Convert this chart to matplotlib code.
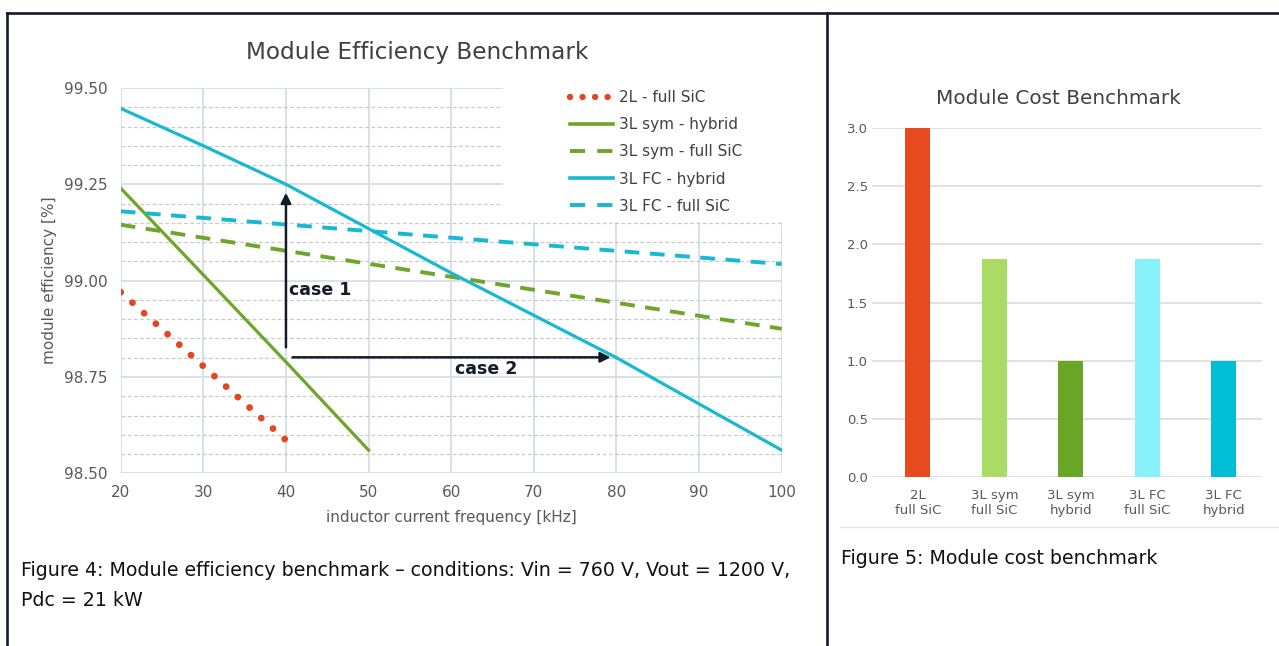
import matplotlib
matplotlib.use('Agg')
import matplotlib.pyplot as plt
from matplotlib.ticker import MultipleLocator, FormatStrFormatter
from matplotlib.lines import Line2D
from matplotlib.patches import Rectangle

# ---------------- data ----------------
freq_2l = [20, 30, 40]
eff_2l = [98.970, 98.778, 98.586]

freq_sym_hybrid = [20, 30, 40, 50]
eff_sym_hybrid = [99.240, 99.015, 98.789, 98.560]

freq_sym_sic = [20, 60, 100]
eff_sym_sic = [99.145, 99.010, 98.875]

freq_fc_hybrid = [20, 30, 40, 50, 60, 70, 80, 90, 100]
eff_fc_hybrid = [99.447, 99.350, 99.250, 99.135, 99.020, 98.910, 98.800, 98.680, 98.560]

freq_fc_sic = [20, 100]
eff_fc_sic = [99.180, 99.043]

series_labels = ["2L - full SiC", "3L sym - hybrid", "3L sym - full SiC",
                 "3L FC - hybrid", "3L FC - full SiC"]

cost_labels = ["2L\nfull SiC", "3L sym\nfull SiC", "3L sym\nhybrid",
               "3L FC\nfull SiC", "3L FC\nhybrid"]
cost_values = [3.0, 1.87, 1.0, 1.87, 1.0]

eff_ticks = [98.50, 98.75, 99.00, 99.25, 99.50]
freq_ticks = [20, 30, 40, 50, 60, 70, 80, 90, 100]

# ---------------- styling ----------------
plt.rcParams['font.family'] = ['DejaVu Sans']
W, H = 1279, 646
fig = plt.figure(figsize=(W / 100, H / 100), dpi=100)
fig.patch.set_facecolor('white')


def fx(px):
    return px / W


def fy(py):
    return 1 - py / H


RED = '#e4461f'
GREEN = '#6fa52a'
CYAN = '#17b8d1'
TICK = '#595959'
TITLE = '#404040'
MAJOR = '#d5dde6'
MINOR = '#cacaca'
DARK = '#141c28'

# ---------------- efficiency chart ----------------
L, R, T, B = 120.7, 781.7, 88.0, 473.3
ax = fig.add_axes([fx(L), fy(B), (R - L) / W, (B - T) / H])
ax.set_xlim(20, 100)
ax.set_ylim(98.5, 99.5)
ax.set_xticks(freq_ticks)
ax.set_yticks(eff_ticks)
ax.yaxis.set_major_formatter(FormatStrFormatter('%.2f'))
ax.yaxis.set_minor_locator(MultipleLocator(0.05))
ax.set_axisbelow(True)
ax.grid(which='major', color=MAJOR, lw=1.3, ls='-')
ax.grid(which='minor', axis='y', color=MINOR, lw=0.9, ls=(0, (3, 2)))
for s in ax.spines.values():
    s.set_visible(False)
ax.tick_params(which='both', length=0)
ax.tick_params(axis='y', pad=9.5, labelsize=11, labelcolor=TICK)
ax.tick_params(axis='x', pad=8.5, labelsize=11, labelcolor=TICK)
ax.set_xlabel('inductor current frequency [kHz]', fontsize=11, color=TICK, labelpad=7)
ax.set_ylabel('module efficiency [%]', fontsize=11, color=TICK, labelpad=5)

# white box behind the legend
ax.add_patch(Rectangle((fx(503), fy(222)), fx(790) - fx(503), fy(74) - fy(222),
                       transform=fig.transFigure, facecolor='white',
                       edgecolor='none', zorder=1, clip_on=False))

dot_ls = (0, (0.01, 2.3))
dash_ls = (0, (3.8, 2.7))
ax.plot(freq_2l, eff_2l, color=RED, lw=4.9, ls=dot_ls, dash_capstyle='round', zorder=3)
ax.plot(freq_sym_hybrid, eff_sym_hybrid, color=GREEN, lw=2.3, zorder=3)
ax.plot(freq_sym_sic, eff_sym_sic, color=GREEN, lw=2.8, ls=dash_ls, zorder=3)
ax.plot(freq_fc_hybrid, eff_fc_hybrid, color=CYAN, lw=2.3, zorder=3)
ax.plot(freq_fc_sic, eff_fc_sic, color=CYAN, lw=2.8, ls=dash_ls, zorder=3)

handles = [
    Line2D([], [], color=RED, lw=4.6, ls=(0, (0.01, 1.95)), dash_capstyle='round'),
    Line2D([], [], color=GREEN, lw=2.6),
    Line2D([], [], color=GREEN, lw=2.8, ls=(0, (3.9, 3.1))),
    Line2D([], [], color=CYAN, lw=2.6),
    Line2D([], [], color=CYAN, lw=2.8, ls=(0, (3.9, 3.1))),
]
leg = ax.legend(handles, series_labels, loc='upper left',
                bbox_to_anchor=((570 - L) / (R - L), 0.995),
                frameon=False, fontsize=11, handlelength=2.8,
                handletextpad=0.4, labelspacing=0.8, borderpad=0,
                borderaxespad=0)
for t in leg.get_texts():
    t.set_color(TITLE)

# arrows and annotations
ax.annotate('', xy=(40, 99.228), xytext=(40, 98.827),
            arrowprops=dict(arrowstyle='-|>', color=DARK, lw=1.8,
                            mutation_scale=15, shrinkA=0, shrinkB=0), zorder=4)
ax.annotate('', xy=(79.3, 98.801), xytext=(40.8, 98.801),
            arrowprops=dict(arrowstyle='-|>', color=DARK, lw=1.8,
                            mutation_scale=15, shrinkA=0, shrinkB=0), zorder=4)
ax.text(40.35, 98.976, 'case 1', fontsize=12.5, fontweight='bold', color=DARK,
        va='center', ha='left', zorder=4)
ax.text(60.5, 98.77, 'case 2', fontsize=12.5, fontweight='bold', color=DARK,
        va='center', ha='left', zorder=4)

fig.text(fx(417.5), fy(53), 'Module Efficiency Benchmark', fontsize=16.7,
         color=TITLE, ha='center', va='center')

# ---------------- cost chart ----------------
L2, R2, T2, B2 = 872.0, 1262.0, 127.7, 477.3
ax2 = fig.add_axes([fx(L2), fy(B2), (R2 - L2) / W, (B2 - T2) / H])
bar_colors = ['#e84a1f', '#a8dc64', '#6aa626', '#88f0fa', '#00bfd5']
ax2.bar(range(len(cost_values)), cost_values, width=0.33, color=bar_colors, zorder=3)
ax2.set_xlim(-0.6, 4.5)
ax2.set_ylim(0, 3.0)
ax2.set_yticks([0.0, 0.5, 1.0, 1.5, 2.0, 2.5, 3.0])
ax2.yaxis.set_major_formatter(FormatStrFormatter('%.1f'))
ax2.set_xticks(range(len(cost_labels)))
ax2.set_xticklabels(cost_labels)
ax2.set_axisbelow(True)
ax2.grid(axis='y', color='#dcdcdc', lw=1.2)
for s in ax2.spines.values():
    s.set_visible(False)
ax2.tick_params(length=0, labelsize=9.5, labelcolor=TICK)
ax2.tick_params(axis='y', pad=3)
ax2.tick_params(axis='x', pad=8.5)
fig.text(fx(1058), fy(99), 'Module Cost Benchmark', fontsize=14.4,
         color=TITLE, ha='center', va='center')
fig.add_artist(Line2D([fx(840), 1.0], [fy(527), fy(527)], color='#e6e6e6', lw=1))

# ---------------- captions ----------------
fig.text(fx(21), fy(571),
         'Figure 4: Module efficiency benchmark \u2013 conditions: Vin = 760 V, Vout = 1200 V,',
         fontsize=13.7, color='#111111', ha='left', va='center')
fig.text(fx(21), fy(601), 'Pdc = 21 kW', fontsize=13.7, color='#111111',
         ha='left', va='center')
fig.text(fx(841), fy(558), 'Figure 5: Module cost benchmark', fontsize=13.7,
         color='#111111', ha='left', va='center')

# ---------------- table borders ----------------
bl = dict(color=DARK, lw=1.9, solid_capstyle='projecting')
fig.add_artist(Line2D([fx(7), fx(7)], [fy(13), 0], **bl))
fig.add_artist(Line2D([fx(7), 1.0], [fy(13), fy(13)], **bl))
fig.add_artist(Line2D([fx(827), fx(827)], [fy(13), 0], **bl))

fig.savefig('out.png', dpi=100, facecolor='white')
